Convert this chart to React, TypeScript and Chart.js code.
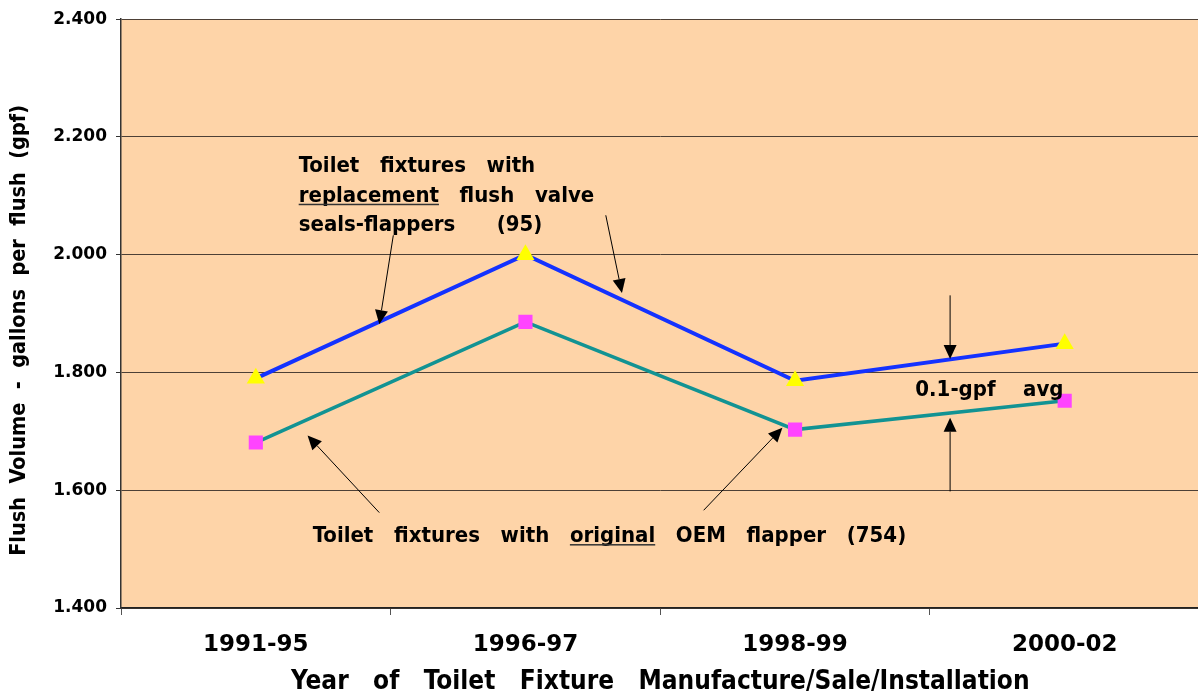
import React, { useEffect, useRef } from "react";
import { Chart, registerables } from "chart.js";

Chart.register(...registerables);

// ---------- data ----------
const categories = ["1991-95", "1996-97", "1998-99", "2000-02"];
const replacementFlapper = [1.79, 2.0, 1.786, 1.849];
const originalFlapper = [1.681, 1.886, 1.703, 1.752];
const yMin = 1.4;
const yMax = 2.4;
const yStep = 0.2;
const yTitle = "Flush  Volume  -  gallons  per  flush  (gpf)     ";
const xTitle = "Year   of   Toilet   Fixture   Manufacture/Sale/Installation";

// annotation texts, anchored in data space (category index, gpf)
const noteTopLines = [
  [{ t: "Toilet   fixtures   with" }],
  [{ t: "replacement", u: true }, { t: "   flush   valve" }],
  [{ t: "seals-flappers      (95)" }],
];
const noteTopAnchor = { x: 0.159, y: [2.141, 2.09, 2.04] };
const noteBottomLine = [
  { t: "Toilet   fixtures   with   " },
  { t: "original", u: true },
  { t: "   OEM   flapper   (754)" },
];
const noteBottomAnchor = { x: 0.211, y: 1.512 };
const noteAvg = "0.1-gpf    avg";
const noteAvgAnchor = { x: 2.446, y: 1.76 };
// arrows: [fromX, fromY, tipX, tipY] in (category index, gpf)
const arrows = [
  [0.51, 2.033, 0.458, 1.882],
  [1.298, 2.067, 1.358, 1.935],
  [0.458, 1.562, 0.192, 1.693],
  [1.661, 1.566, 1.953, 1.706],
  [2.575, 1.931, 2.575, 1.823],
  [2.575, 1.598, 2.575, 1.723],
];

const COND = '"DejaVu Sans Condensed", "DejaVu Sans", sans-serif';
const SANS = '"DejaVu Sans", sans-serif';
const PEACH = "#FED4A8";

const backgroundPlugin = {
  id: "plotBg",
  beforeDraw(chart: any) {
    const { ctx, chartArea } = chart;
    ctx.save();
    ctx.fillStyle = "#ffffff";
    ctx.fillRect(0, 0, chart.width, chart.height);
    ctx.fillStyle = PEACH;
    ctx.fillRect(chartArea.left, chartArea.top, chartArea.right - chartArea.left, chartArea.bottom - chartArea.top);
    ctx.restore();
  },
};

const notesPlugin = {
  id: "notes",
  afterDatasetsDraw(chart: any) {
    const { ctx } = chart;
    const xs = chart.scales.x;
    const ys = chart.scales.y;
    const px = (v: number) => xs.getPixelForValue(v);
    const py = (v: number) => ys.getPixelForValue(v);
    ctx.save();
    ctx.fillStyle = "#000";
    ctx.strokeStyle = "#000";
    ctx.textBaseline = "alphabetic";
    ctx.textAlign = "left";
    ctx.font = `bold 22px ${COND}`;

    const drawLine = (segs: any[], x0: number, y0: number) => {
      let cx = x0;
      for (const s of segs) {
        ctx.fillStyle = "#000";
        ctx.fillText(s.t, cx, y0);
        const w = ctx.measureText(s.t).width;
        if (s.u) {
          ctx.fillStyle = "#333";
          ctx.fillRect(cx, y0 + 2, w, 1.5);
        }
        cx += w;
      }
    };
    noteTopLines.forEach((segs, i) => drawLine(segs, px(noteTopAnchor.x), py(noteTopAnchor.y[i])));
    drawLine(noteBottomLine, px(noteBottomAnchor.x), py(noteBottomAnchor.y));
    drawLine([{ t: noteAvg }], px(noteAvgAnchor.x), py(noteAvgAnchor.y));

    ctx.lineWidth = 1;
    ctx.fillStyle = "#000";
    for (const [fx, fy, tx, ty] of arrows) {
      const x1 = px(fx), y1 = py(fy), x2 = px(tx), y2 = py(ty);
      const ang = Math.atan2(y2 - y1, x2 - x1);
      const L = 14, H = 6.5;
      const bx = x2 - L * Math.cos(ang), by = y2 - L * Math.sin(ang);
      ctx.beginPath();
      ctx.moveTo(x1, y1);
      ctx.lineTo(bx, by);
      ctx.stroke();
      ctx.beginPath();
      ctx.moveTo(x2, y2);
      ctx.lineTo(bx + H * Math.sin(ang), by - H * Math.cos(ang));
      ctx.lineTo(bx - H * Math.sin(ang), by + H * Math.cos(ang));
      ctx.closePath();
      ctx.fill();
    }
    ctx.restore();
  },
};

export default function App() {
  const ref = useRef<HTMLCanvasElement | null>(null);
  useEffect(() => {
    if (!ref.current) return;
    const chart = new Chart(ref.current, {
      type: "line",
      data: {
        labels: categories,
        datasets: [
          {
            label: "replacement",
            data: replacementFlapper,
            borderColor: "#1432FF",
            borderWidth: 4,
            pointStyle: "triangle",
            pointRadius: 10.5,
            pointHoverRadius: 10.5,
            pointBackgroundColor: "#FFFF00",
            pointBorderWidth: 0,
            tension: 0,
          },
          {
            label: "original",
            data: originalFlapper,
            borderColor: "#129393",
            borderWidth: 3.5,
            pointStyle: "rect",
            pointRadius: 10,
            pointHoverRadius: 10,
            pointBackgroundColor: "#FF44FF",
            pointBorderWidth: 0,
            tension: 0,
          },
        ],
      },
      options: {
        responsive: false,
        maintainAspectRatio: false,
        animation: false,
        devicePixelRatio: 1,
        layout: { padding: { top: 17, right: 8, left: 0, bottom: 0 } },
        plugins: { legend: { display: false }, tooltip: { enabled: false } },
        scales: {
          x: {
            offset: true,
            grid: {
              offset: true,
              drawOnChartArea: false,
              drawTicks: true,
              tickLength: 7,
              tickColor: "#555",
            },
            border: { display: true, color: "#222", width: 1.5 },
            ticks: {
              color: "#000",
              font: { family: SANS, size: 23, weight: "bold" },
              padding: 16,
              maxRotation: 0,
            },
            title: {
              display: true,
              text: xTitle,
              color: "#000",
              font: { family: COND, size: 26, weight: "bold" },
              padding: { top: 0, bottom: 0 },
            },
            afterFit(scale: any) {
              scale.height = 90;
            },
          },
          y: {
            min: yMin,
            max: yMax,
            grid: {
              color: "#4d4036",
              lineWidth: 1,
              drawTicks: true,
              tickLength: 5,
              tickColor: "#333",
            },
            border: { display: true, color: "#333", width: 1.5 },
            ticks: {
              stepSize: yStep,
              color: "#000",
              font: { family: SANS, size: 17, weight: "bold" },
              padding: 9,
              callback: (v: any) => Number(v).toFixed(3),
            },
            title: {
              display: true,
              text: yTitle,
              color: "#000",
              font: { family: COND, size: 21.5, weight: "bold" },
              padding: { top: 7, bottom: 0 },
            },
            afterFit(scale: any) {
              scale.width = 121;
            },
          },
        },
      },
      plugins: [backgroundPlugin, notesPlugin],
    } as any);
    return () => chart.destroy();
  }, []);
  return (
    <div
      style={{
        position: "absolute",
        left: 0,
        top: 0,
        width: 1198,
        height: 698,
        overflow: "hidden",
        background: "#fff",
      }}
    >
      <canvas ref={ref} width={1210} height={698} style={{ width: 1210, height: 698, display: "block" }} />
    </div>
  );
}
